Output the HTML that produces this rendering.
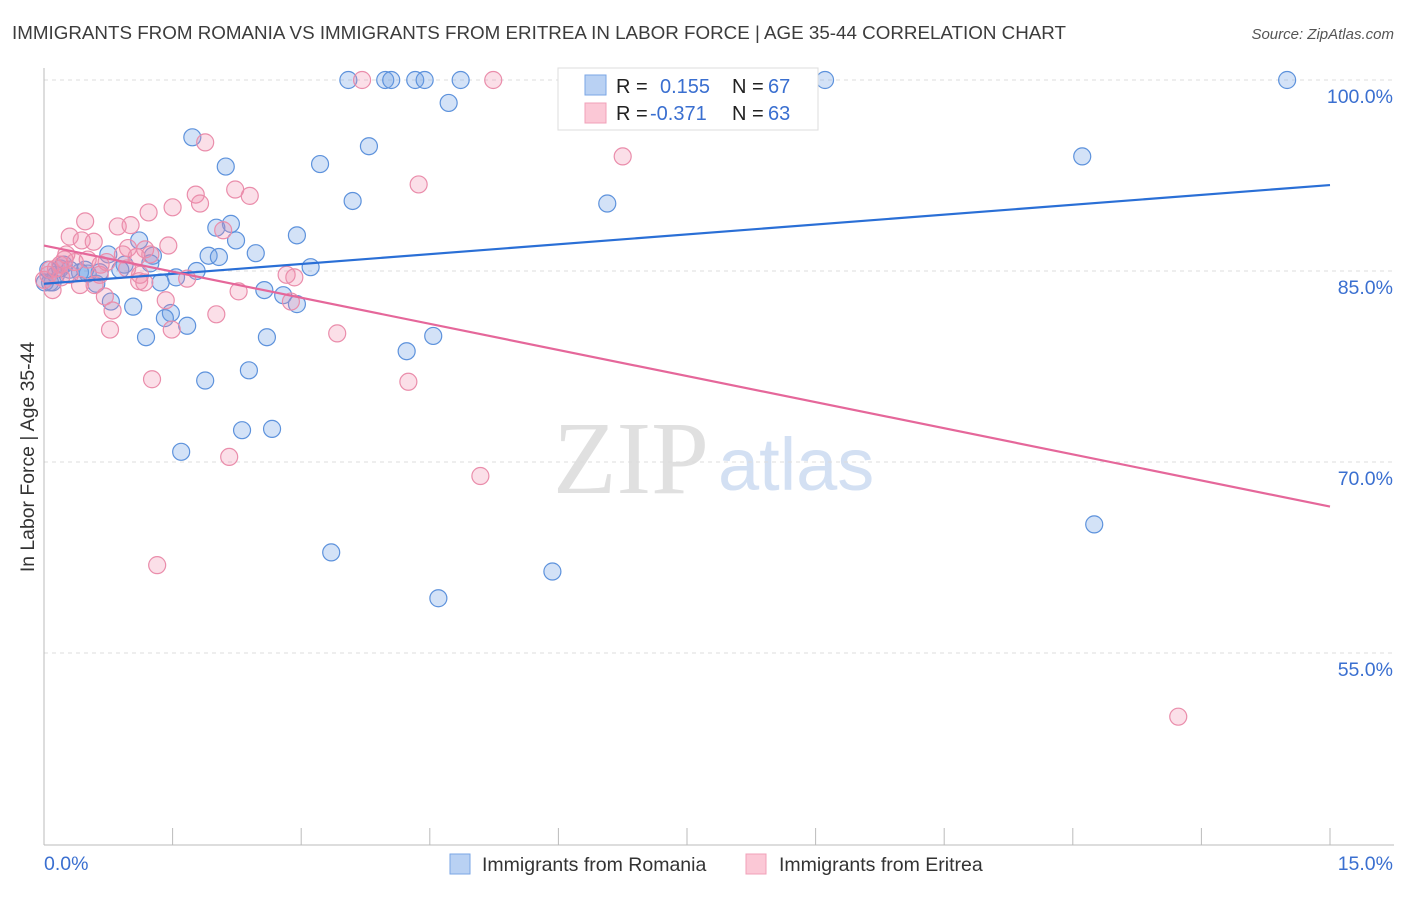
<!DOCTYPE html>
<html><head><meta charset="utf-8"><style>
body{margin:0;background:#fff;font-family:"Liberation Sans",sans-serif;}
svg text{font-family:"Liberation Sans",sans-serif;}
</style></head><body>
<svg id="chart" width="1406" height="892">
<text x="12" y="39" font-size="18.8" fill="#3c3c3c">IMMIGRANTS FROM ROMANIA VS IMMIGRANTS FROM ERITREA IN LABOR FORCE | AGE 35-44 CORRELATION CHART</text>
<text x="1394" y="39" font-size="15" font-style="italic" fill="#555" text-anchor="end">Source: ZipAtlas.com</text>
<text x="0" y="0" font-size="19.4" fill="#333" text-anchor="middle" transform="translate(34,457) rotate(-90)">In Labor Force | Age 35-44</text>
<g>
<text x="553" y="493" font-size="104" fill="#e0e0e0" style="font-family:'Liberation Serif',serif">ZIP</text>
<text x="718" y="490" font-size="74" fill="#d3e0f3">atlas</text>
</g>
<g id="grid"></g><g id="axes"></g><g id="pts"></g><g id="lines"></g>
<g>
<rect x="558" y="68" width="260" height="62" fill="#fff" stroke="#ddd"/>
<rect x="585" y="75" width="21" height="20" fill="#b9d1f3" stroke="#7aa6e6"/>
<rect x="585" y="103" width="21" height="20" fill="#fbc8d6" stroke="#f0a0b8"/>
<text x="616" y="93" font-size="20" fill="#222">R = </text><text x="660" y="93" font-size="20" fill="#3a6fd0">0.155</text>
<text x="732" y="93" font-size="20" fill="#222">N = </text><text x="768" y="93" font-size="20" fill="#3a6fd0">67</text>
<text x="616" y="120" font-size="20" fill="#222">R = </text><text x="650" y="120" font-size="20" fill="#3a6fd0">-0.371</text>
<text x="732" y="120" font-size="20" fill="#222">N = </text><text x="768" y="120" font-size="20" fill="#3a6fd0">63</text>
</g>
<g>
<rect x="450" y="854" width="20" height="20" fill="#b9d1f3" stroke="#7aa6e6"/>
<text x="482" y="871" font-size="19.5" fill="#333">Immigrants from Romania</text>
<rect x="746" y="854" width="20" height="20" fill="#fbc8d6" stroke="#f0a0b8"/>
<text x="779" y="871" font-size="19.5" fill="#333">Immigrants from Eritrea</text>
</g>
</svg>
<script>
const romaniaX=[3.55,3.98,4.05,4.33,4.44,4.86,9.11,14.50,4.72,1.73,3.79,2.12,3.22,12.11,3.60,6.57,2.18,2.01,2.95,2.24,1.11,2.47,1.92,2.04,1.27,0.75,0.94,1.24,3.11,1.78,1.54,1.36,0.61,0.51,0.42,0.14,0.07,0.05,0.19,2.57,2.79,2.95,0.78,1.04,1.48,1.41,1.67,1.19,2.60,4.54,4.23,2.39,1.88,2.31,2.66,1.60,12.25,3.35,5.93,4.60,0.23,0.30,0.65,0.10,0.89,0.48,0.01];
const romaniaY=[100,100,100,100,100,100,100,100,98.2,95.5,94.8,93.2,93.4,94.0,90.5,90.3,88.7,88.4,87.8,87.4,87.4,86.4,86.2,86.1,86.2,86.3,85.5,85.6,85.3,85.0,84.5,84.1,84.0,84.8,84.9,84.7,84.1,85.1,85.2,83.5,83.1,82.4,82.6,82.2,81.7,81.3,80.7,79.8,79.8,79.9,78.7,77.2,76.4,72.5,72.6,70.8,65.1,62.9,61.4,59.3,85.5,85.1,84.9,84.1,85.1,85.1,84.1];
const eritreaX=[3.71,5.24,1.88,6.75,4.37,1.77,2.23,2.40,1.82,1.22,1.50,0.48,0.86,1.01,0.30,0.44,0.58,2.09,1.45,0.98,1.18,1.08,0.73,0.26,0.36,0.14,0.07,0.51,0.20,0.65,2.83,2.92,1.11,1.17,1.67,2.27,0.71,1.42,2.88,0.80,2.01,0.77,1.49,3.42,1.26,4.25,2.16,5.09,1.32,13.23,0.19,0.05,0.59,0.92,0.42,0.66,0.24,1.24,0.10,0.00,0.97,1.12,0.30];
const eritreaY=[100,100,95.1,94.0,91.8,91.0,91.4,90.9,90.3,89.6,90.0,88.9,88.5,88.6,87.7,87.4,87.3,88.2,87.0,86.8,86.7,86.1,85.7,86.3,85.7,85.2,85.1,85.9,84.5,84.7,84.7,84.5,84.2,84.1,84.4,83.4,83.0,82.7,82.6,81.9,81.6,80.4,80.4,80.1,76.5,76.3,70.4,68.9,61.9,50.0,85.5,84.7,83.9,86.3,83.9,85.5,85.9,86.3,83.5,84.3,85.2,84.7,84.7];
const trendX=[0,15];
const romaniaTrend=[84.0,91.75];
const eritreaTrend=[87.0,66.5];
const yTicks=[100,85,70,55];
const yTickLabels=["100.0%","85.0%","70.0%","55.0%"];
const xTickLabels=["0.0%","15.0%"];
const NS="http://www.w3.org/2000/svg";
const sx=v=>44+v/15*1286;
const sy=v=>80+(100-v)/15*191;
function mk(tag,attrs,parent){const e=document.createElementNS(NS,tag);for(const k in attrs)e.setAttribute(k,attrs[k]);parent.appendChild(e);return e;}
const grid=document.getElementById('grid'),axes=document.getElementById('axes'),pts=document.getElementById('pts'),lines=document.getElementById('lines');
yTicks.forEach((t,i)=>{
 const l=mk('line',{x1:44,x2:1394,y1:sy(t),y2:sy(t),stroke:'#ddd','stroke-dasharray':'4,4'},grid);
 
 
 const tx=mk('text',{x:1393,y:sy(t)+23,'font-size':19.5,fill:'#3a6fd0','text-anchor':'end'},axes);
 tx.textContent=yTickLabels[i];
 
 
});
const ya=mk('line',{x1:44,x2:44,y1:68,y2:845,stroke:'#bbb'},axes);


const xa=mk('line',{x1:44,x2:1394,y1:845,y2:845,stroke:'#bbb'},axes);


for(let i=0;i<=10;i++){
 const v=i*1.5;
 const t=mk('line',{x1:sx(v),x2:sx(v),y1:828,y2:845,stroke:'#bbb'},axes);
 
 
}
[[0,'start'],[15,'end']].forEach((p,i)=>{
 const tx=mk('text',{x:i?1393:44,y:870,'font-size':19.5,fill:'#3a6fd0','text-anchor':p[1]},axes);
 tx.textContent=xTickLabels[i];
 
 
});
function drawPts(X,Y,fill,stroke,name){
 X.forEach((x,i)=>{
  const c=mk('circle',{cx:sx(x),cy:sy(Y[i]),r:8.5,fill:fill,stroke:stroke,'stroke-width':1.2},pts);
  
  
 });
}
drawPts(romaniaX,romaniaY,'rgba(110,160,230,0.3)','#5d92dc','romania-point');
drawPts(eritreaX,eritreaY,'rgba(242,140,172,0.28)','#ea8dab','eritrea-point');
const bl=mk('line',{x1:sx(trendX[0]),y1:sy(romaniaTrend[0]),x2:sx(trendX[1]),y2:sy(romaniaTrend[1]),stroke:'#2a6fd6','stroke-width':2.2},lines);


const pl=mk('line',{x1:sx(trendX[0]),y1:sy(eritreaTrend[0]),x2:sx(trendX[1]),y2:sy(eritreaTrend[1]),stroke:'#e5679a','stroke-width':2.2},lines);


</script>
</body></html>
